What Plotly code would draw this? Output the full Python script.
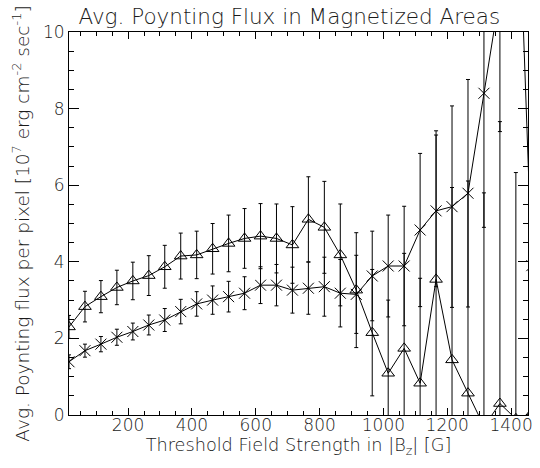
import plotly.graph_objects as go

# Threshold field strength |Bz| [G]
thresholds = [15, 65, 115, 165, 215, 265, 315, 365, 415, 465,
              515, 565, 615, 665, 715, 765, 815, 865, 915, 965,
              1015, 1065, 1115, 1165, 1215, 1265, 1315, 1365, 1415, 1465]

# Series drawn with triangles
tri_values = [2.30, 2.83, 3.09, 3.33, 3.50, 3.64, 3.87, 4.15, 4.18, 4.34,
              4.48, 4.61, 4.67, 4.61, 4.44, 5.11, 4.90, 4.18, 3.26, 2.15,
              1.09, 1.74, 0.83, 3.54, 1.44, 0.57, -0.30, 0.30, -0.10, 0.05]
tri_errors = [0.30, 0.40, 0.42, 0.45, 0.49, 0.52, 0.56, 0.60, 0.62, 0.66,
              0.74, 0.78, 0.85, 0.90, 1.00, 1.11, 1.20, 1.33, 1.50, 1.65,
              1.91, 2.48, 2.74, 3.88, 4.50, 5.54, 6.10, 7.36, 6.43, 6.00]

# Series drawn with crosses
x_values = [1.39, 1.68, 1.85, 2.03, 2.18, 2.35, 2.48, 2.70, 2.90, 3.00,
            3.09, 3.18, 3.39, 3.39, 3.26, 3.31, 3.35, 3.18, 3.15, 3.63,
            3.89, 3.89, 4.83, 5.33, 5.44, 5.79, 8.40, 11.0, 15.6, 3.90]
x_errors = [0.18, 0.17, 0.20, 0.21, 0.22, 0.26, 0.30, 0.32, 0.32, 0.37,
            0.40, 0.43, 0.48, 0.54, 0.60, 0.68, 0.77, 0.88, 1.02, 1.17,
            1.33, 1.56, 2.00, 1.98, 2.63, 2.97, 3.50, 3.60, 5.00, 5.00]

FONT = "DejaVu Sans"
TXT = "#1a1a1a"

fig = go.Figure()
fig.add_trace(go.Scatter(
    x=thresholds, y=tri_values, mode="lines+markers",
    line=dict(color="black", width=1),
    marker=dict(symbol="triangle-up-open", size=11, color="black",
                line=dict(color="black", width=1)),
    error_y=dict(type="data", array=tri_errors, visible=True,
                 color="black", thickness=1, width=2),
    showlegend=False, hoverinfo="skip",
))
fig.add_trace(go.Scatter(
    x=thresholds, y=x_values, mode="lines+markers",
    line=dict(color="black", width=1),
    marker=dict(symbol="x-thin-open", size=11, color="black",
                line=dict(color="black", width=1)),
    error_y=dict(type="data", array=x_errors, visible=True,
                 color="black", thickness=1, width=2),
    showlegend=False, hoverinfo="skip",
))

fig.update_layout(
    width=540, height=468, autosize=False,
    margin=dict(l=69, r=7, t=32, b=53),
    paper_bgcolor="white", plot_bgcolor="white",
    font=dict(family=FONT, color=TXT, size=17, weight=300),
    title=dict(text="Avg. Poynting Flux in Magnetized Areas",
               x=0.48, xref="paper", xanchor="center",
               y=1 - 16 / 468, yref="container", yanchor="middle",
               font=dict(family=FONT, size=21.5, color=TXT, weight=300)),
)
fig.update_xaxes(
    range=[15, 1453], tick0=0, dtick=200,
    ticks="inside", ticklen=7, tickwidth=1, tickcolor="black",
    minor=dict(dtick=50, ticks="inside", ticklen=4, tickwidth=1, tickcolor="black"),
    showline=True, linecolor="black", linewidth=1, mirror="allticks",
    showgrid=False, zeroline=False, ticklabeloverflow="allow",
    ticklabelstandoff=-5,
    tickfont=dict(family=FONT, size=17, color=TXT, weight=300),
    title=dict(text="Threshold Field Strength in |B<sub>z</sub>| [G]",
               font=dict(family=FONT, size=17.7, color=TXT, weight=300), standoff=0),
)
fig.update_yaxes(
    range=[0, 10], tick0=0, dtick=2,
    ticks="inside", ticklen=10, tickwidth=1, tickcolor="black",
    minor=dict(dtick=0.5, ticks="inside", ticklen=5, tickwidth=1, tickcolor="black"),
    showline=True, linecolor="black", linewidth=1, mirror="allticks",
    showgrid=False, zeroline=False, ticklabeloverflow="allow",
    tickfont=dict(family=FONT, size=17, color=TXT, weight=300),
    title=dict(text="Avg. Poynting flux per pixel [10<sup>7</sup> erg cm<sup>-2</sup> sec<sup>-1</sup>]",
               font=dict(family=FONT, size=18.5, color=TXT, weight=300), standoff=8),
)

# remove the default 8px page margin so the 540x468 figure fills the window
fig.write_html("out.html", config={"displayModeBar": False},
               post_script="document.body.style.margin='0';")
